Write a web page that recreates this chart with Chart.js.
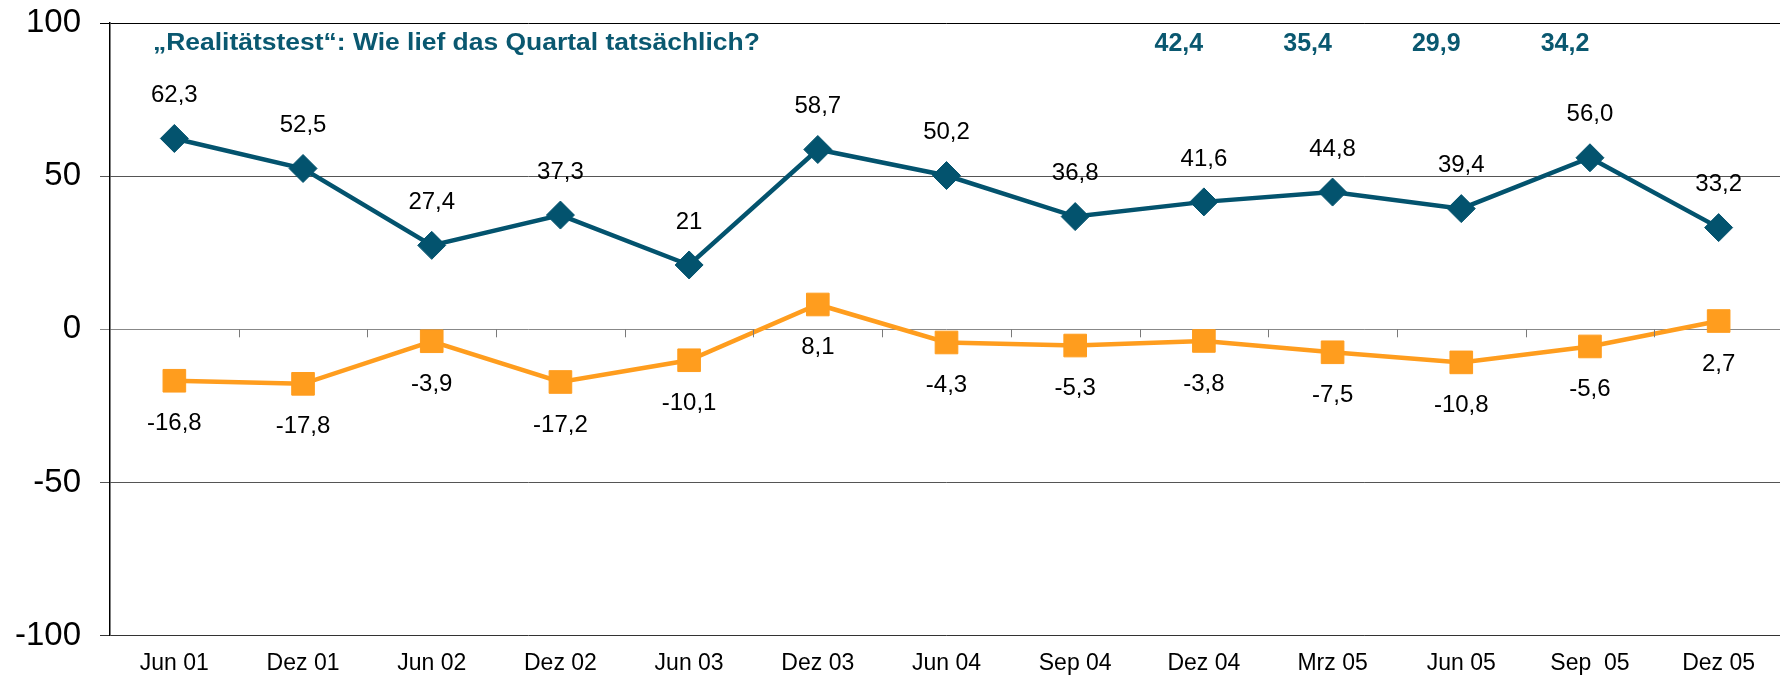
<!DOCTYPE html>
<html>
<head>
<meta charset="utf-8">
<script src="https://cdn.jsdelivr.net/npm/chart.js@4/dist/chart.umd.min.js"></script>
<style>
  html, body { margin: 0; padding: 0; background: #fff; overflow: hidden; }
  #wrap { width: 1780px; height: 677px; overflow: hidden; position: relative; }
  canvas { position: absolute; left: 0; top: 0; }
</style>
</head>
<body>
<div id="wrap"><canvas id="c" width="1800" height="677"></canvas></div>
<script>
// ---- data ----
const categories = ['Jun 01', 'Dez 01', 'Jun 02', 'Dez 02', 'Jun 03', 'Dez 03', 'Jun 04', 'Sep 04', 'Dez 04', 'Mrz 05', 'Jun 05', 'Sep  05', 'Dez 05'];
const blueValues = [62.3, 52.5, 27.4, 37.3, 21, 58.7, 50.2, 36.8, 41.6, 44.8, 39.4, 56.0, 33.2];
const blueLabels = ['62,3', '52,5', '27,4', '37,3', '21', '58,7', '50,2', '36,8', '41,6', '44,8', '39,4', '56,0', '33,2'];
const orangeValues = [-16.8, -17.8, -3.9, -17.2, -10.1, 8.1, -4.3, -5.3, -3.8, -7.5, -10.8, -5.6, 2.7];
const orangeLabels = ['-16,8', '-17,8', '-3,9', '-17,2', '-10,1', '8,1', '-4,3', '-5,3', '-3,8', '-7,5', '-10,8', '-5,6', '2,7'];
const realityLabels = [null, null, null, null, null, null, null, null, '42,4', '35,4', '29,9', '34,2', null];
const yTicks = [100, 50, 0, -50, -100];
const titleText = '\u201ERealit\u00E4tstest\u201C: Wie lief das Quartal tats\u00E4chlich?';

// ---- styles ----
const FONT = '"Liberation Sans", Arial, sans-serif';
const BLUE = '#03536E';
const ORANGE = '#FF9D1E';
const TEAL_TEXT = '#0A5870';

const overlay = {
  id: 'overlay',
  afterDatasetsDraw(chart) {
    const ctx = chart.ctx;
    const xs = chart.scales.x, ys = chart.scales.y;
    const area = chart.chartArea;
    ctx.save();
    // tick marks on the zero line at category boundaries
    const y0 = ys.getPixelForValue(0);
    ctx.strokeStyle = '#7a7a7a';
    ctx.lineWidth = 1;
    for (let i = 0; i < categories.length - 1; i++) {
      const bx = Math.round((xs.getPixelForValue(i) + xs.getPixelForValue(i + 1)) / 2) + 0.5;
      ctx.beginPath();
      ctx.moveTo(bx, y0);
      ctx.lineTo(bx, y0 + 8);
      ctx.stroke();
    }
    // data labels
    ctx.fillStyle = '#000';
    ctx.font = '24px ' + FONT;
    ctx.textAlign = 'center';
    ctx.textBaseline = 'middle';
    const m0 = chart.getDatasetMeta(0).data;
    const m1 = chart.getDatasetMeta(1).data;
    m0.forEach((p, i) => ctx.fillText(blueLabels[i], p.x, p.y - 43));
    m1.forEach((p, i) => ctx.fillText(orangeLabels[i], p.x, p.y + 43));
    // title
    ctx.fillStyle = TEAL_TEXT;
    ctx.font = 'bold 23px ' + FONT;
    ctx.textAlign = 'left';
    ctx.save();
    ctx.translate(area.left + 43, 44);
    ctx.scale(1.15, 1);
    ctx.fillText(titleText, 0, 0);
    ctx.restore();
    // reality values
    ctx.font = 'bold 25px ' + FONT;
    ctx.textAlign = 'center';
    realityLabels.forEach((t, i) => {
      if (t) ctx.fillText(t, xs.getPixelForValue(i) - 25, 44);
    });
    ctx.restore();
  }
};

new Chart(document.getElementById('c'), {
  type: 'line',
  data: {
    labels: categories,
    datasets: [
      {
        data: blueValues,
        borderColor: BLUE,
        backgroundColor: BLUE,
        borderWidth: 4.5,
        pointStyle: 'rectRot',
        pointRadius: 14,
        pointBorderWidth: 1,
        pointBorderColor: BLUE,
        pointBackgroundColor: BLUE,
        tension: 0
      },
      {
        data: orangeValues,
        borderColor: ORANGE,
        backgroundColor: ORANGE,
        borderWidth: 4.5,
        pointStyle: 'rect',
        pointRadius: 16,
        pointBorderWidth: 1,
        pointBorderColor: ORANGE,
        pointBackgroundColor: ORANGE,
        tension: 0
      }
    ]
  },
  options: {
    responsive: false,
    animation: false,
    layout: { padding: { top: 23, left: 0, right: 0, bottom: 0 } },
    plugins: { legend: { display: false }, tooltip: { enabled: false } },
    scales: {
      x: {
        offset: true,
        grid: { display: false, drawTicks: false, offset: true },
        border: { display: false },
        ticks: { font: { family: FONT, size: 23 }, color: '#000', padding: 14, maxRotation: 0, autoSkip: false },
        afterFit(s) { s.height = 41.4; s.paddingLeft = 0; s.paddingRight = 0; }
      },
      y: {
        min: -100,
        max: 100,
        afterBuildTicks(s) { s.ticks = yTicks.map(v => ({ value: v })); },
        grid: {
          color(c) {
            const v = c.tick ? c.tick.value : 0;
            if (v === 100) return '#000';
            if (v === -100) return '#333';
            if (v === 0) return '#888';
            return '#555';
          },
          lineWidth: 1,
          tickLength: 10,
          drawTicks: true
        },
        border: { color: '#000', width: 1.5 },
        ticks: { font: { family: FONT, size: 33 }, color: '#000', padding: 19, callback: v => String(v) },
        afterFit(s) { s.width = 110; s.paddingTop = 0; s.paddingBottom = 0; }
      }
    }
  },
  plugins: [overlay]
});
</script>
</body>
</html>
